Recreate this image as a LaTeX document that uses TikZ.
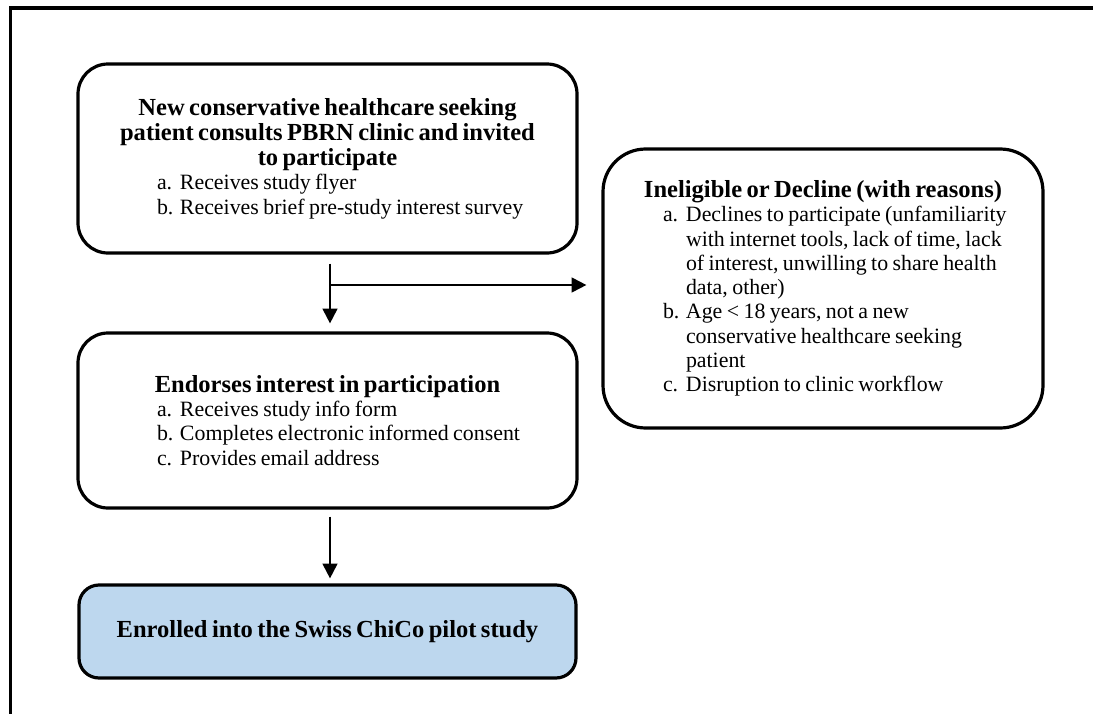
\documentclass[tikz,border=0pt]{standalone}
\usepackage{fontspec}
\setmainfont{Liberation Serif}
\usetikzlibrary{arrows.meta}
\definecolor{enrolblue}{RGB}{189,215,238}
\newlength{\flowindent}
\setlength{\parskip}{0pt}
\newcommand{\titlefont}{\fontsize{18.4pt}{18.9pt}\selectfont\bfseries}
\newcommand{\itemfont}{\fontsize{16.4pt}{18.2pt}\selectfont}
\newcommand{\boxtitle}[1]{{\titlefont\centering #1\par}}
\newcommand{\boxitem}[2]{{\itemfont\leftskip=\flowindent\rightskip=0pt plus 1fil\parindent=0pt\hangindent=17.25pt\hangafter=1\noindent\makebox[17.25pt][l]{#1}#2\par}}
\tikzset{
  flowbox/.style={draw, line width=2.4pt, rounded corners=22.5pt, inner xsep=0pt, inner ysep=0pt},
  flowline/.style={line width=1.5pt, -{Triangle[length=11pt,width=11pt]}}
}

\begin{document}
\begin{tikzpicture}[x=0.75pt, y=-0.75pt]
  \useasboundingbox (0,0) rectangle (1093,714);
  \draw[line width=2.4pt] (1093,8) -- (10.5,8) -- (10.5,714);

  \node[flowbox, text width=374.25pt, minimum height=141.75pt,
        execute at begin node={\setlength{\flowindent}{59.25pt}}] (recruit) at (327.5,158.5)
    {\boxtitle{New conservative healthcare seeking\\patient consults PBRN clinic and invited\\to participate}
     \boxitem{a.}{Receives study flyer}
     \boxitem{b.}{Receives brief pre-study interest survey}};

  \node[flowbox, text width=330pt, minimum height=209.25pt, rounded corners=32pt,
        execute at begin node={\setlength{\flowindent}{45pt}}] (decline) at (823,288.5)
    {\boxtitle{Ineligible or Decline (with reasons)}
     \boxitem{a.}{Declines to participate (unfamiliarity\newline with internet tools, lack of time, lack\newline of interest, unwilling to share health\newline data, other)}
     \boxitem{b.}{Age < 18 years, not a new\newline conservative healthcare seeking\newline patient}
     \boxitem{c.}{Disruption to clinic workflow}};

  \node[flowbox, text width=374.25pt, minimum height=131.25pt,
        execute at begin node={\setlength{\flowindent}{59.25pt}}] (endorse) at (327.5,420.5)
    {\boxtitle{Endorses interest in participation}
     \boxitem{a.}{Receives study info form}
     \boxitem{b.}{Completes electronic informed consent}
     \boxitem{c.}{Provides email address}};

  \node[flowbox, fill=enrolblue, text width=372.75pt, minimum height=69.75pt, rounded corners=15pt] (enrol) at (327.5,631.5)
    {\boxtitle{Enrolled into the Swiss ChiCo pilot study}};

  \coordinate (split) at (330,285);
  \draw[flowline, shorten >=6pt] ([shift={(2.5,9)}]recruit.south) -- ([shift={(2.5,0)}]endorse.north);
  \draw[flowline, shorten >=11.25pt] (split) -- (split -| decline.west);
  \draw[flowline, shorten >=3.75pt] ([shift={(2.5,7)}]endorse.south) -- ([shift={(2.5,0)}]enrol.north);
\end{tikzpicture}
\end{document}
